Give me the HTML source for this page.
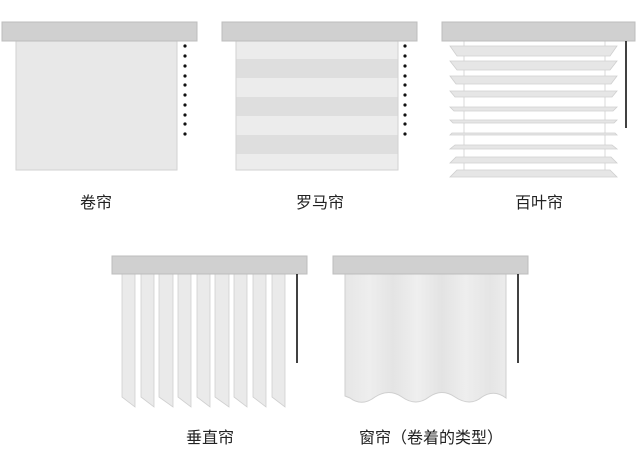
<!DOCTYPE html>
<html><head><meta charset="utf-8"><style>
body{margin:0;background:#fff;width:640px;height:469px;overflow:hidden}
svg{display:block}
text{font-family:"Liberation Sans","Noto Sans CJK SC",sans-serif;font-size:16px;fill:#222}
</style></head><body>
<svg width="640" height="469" viewBox="0 0 640 469">
<defs>
<linearGradient id="cg" x1="0" x2="1">
<stop offset="0" stop-color="#e6e6e6"/><stop offset="0.15" stop-color="#eeeeee"/><stop offset="0.3" stop-color="#e4e4e4"/><stop offset="0.45" stop-color="#efefef"/><stop offset="0.6" stop-color="#e3e3e3"/><stop offset="0.75" stop-color="#eeeeee"/><stop offset="0.9" stop-color="#e5e5e5"/><stop offset="1" stop-color="#ececec"/>
</linearGradient>
</defs>
<!-- roller -->
<rect x="16" y="41" width="161" height="129" fill="#e8e8e8" stroke="#d2d2d2"/>
<rect x="2" y="22" width="195" height="19" fill="#d0d0d0" stroke="#bdbdbd"/>
<g fill="#111">
<circle cx="185" cy="46" r="1.6"/><circle cx="185" cy="56" r="1.6"/><circle cx="185" cy="66" r="1.6"/><circle cx="185" cy="76" r="1.6"/><circle cx="185" cy="85" r="1.6"/><circle cx="185" cy="95" r="1.6"/><circle cx="185" cy="105" r="1.6"/><circle cx="185" cy="115" r="1.6"/><circle cx="185" cy="124" r="1.6"/><circle cx="185" cy="134" r="1.6"/>
</g>
<!-- roman -->
<rect x="236" y="41" width="162" height="129" fill="#ececec" stroke="#d2d2d2"/>
<g fill="#dedede">
<rect x="236.5" y="59" width="161" height="19"/><rect x="236.5" y="97" width="161" height="19"/><rect x="236.5" y="135" width="161" height="19"/>
</g>
<rect x="222" y="22" width="195" height="19" fill="#d0d0d0" stroke="#bdbdbd"/>
<g fill="#111">
<circle cx="405" cy="46" r="1.6"/><circle cx="405" cy="56" r="1.6"/><circle cx="405" cy="66" r="1.6"/><circle cx="405" cy="76" r="1.6"/><circle cx="405" cy="85" r="1.6"/><circle cx="405" cy="95" r="1.6"/><circle cx="405" cy="105" r="1.6"/><circle cx="405" cy="115" r="1.6"/><circle cx="405" cy="124" r="1.6"/><circle cx="405" cy="134" r="1.6"/>
</g>
<!-- venetian -->
<line x1="464" y1="41" x2="464" y2="175" stroke="#d8d8d8"/>
<line x1="605" y1="41" x2="605" y2="175" stroke="#d8d8d8"/>
<g fill="#e6e6e6" stroke="#cfcfcf" stroke-width="0.8">
<polygon points="450,46 617,46 610,56 457,56"/>
<polygon points="450,61 617,61 610,70 457,70"/>
<polygon points="450,76 617,76 611,84 456,84"/>
<polygon points="450,91 617,91 612,97 455,97"/>
<polygon points="450,107 617,107 613,111 454,111"/>
<polygon points="450,120 617,120 614,123 453,123"/>
<polygon points="452,133 615,133 617,135 450,135"/>
<polygon points="455,145 612,145 617,149 450,149"/>
<polygon points="456,157 611,157 617,163 450,163"/>
<polygon points="457,170 610,170 617,177 450,177"/>
</g>
<rect x="442" y="22" width="193" height="19" fill="#d0d0d0" stroke="#bdbdbd"/>
<line x1="626" y1="41" x2="626" y2="128" stroke="#111" stroke-width="1.6"/>
<!-- vertical -->
<g fill="#eaeaea" stroke="#cfcfcf" stroke-width="0.8">
<polygon points="122,274 135,274 135,407 122,397"/>
<polygon points="141,274 154,274 154,407 141,397"/>
<polygon points="159,274 173,274 173,407 159,397"/>
<polygon points="178,274 191,274 191,407 178,397"/>
<polygon points="197,274 210,274 210,407 197,397"/>
<polygon points="215,274 229,274 229,407 215,397"/>
<polygon points="234,274 247,274 247,407 234,397"/>
<polygon points="253,274 266,274 266,407 253,397"/>
<polygon points="272,274 285,274 285,407 272,397"/>
</g>
<rect x="112" y="256" width="195" height="18" fill="#d0d0d0" stroke="#bdbdbd"/>
<line x1="297" y1="274" x2="297" y2="363" stroke="#111" stroke-width="1.6"/>
<!-- curtain -->
<path d="M345,274 H506 V398 Q494,389 482,397 Q470,407 455,397 Q442,388 429,397 Q416,407 402,397 Q389,388 375,397 Q362,407 350,398 L345,396 Z" fill="url(#cg)" stroke="#cfcfcf"/>
<rect x="333" y="256" width="195" height="18" fill="#d0d0d0" stroke="#bdbdbd"/>
<line x1="518" y1="274" x2="518" y2="363" stroke="#111" stroke-width="1.6"/>
<!-- labels -->
<text x="96" y="208" text-anchor="middle">卷帘</text>
<text x="320" y="208" text-anchor="middle">罗马帘</text>
<text x="539" y="208" text-anchor="middle">百叶帘</text>
<text x="210" y="443" text-anchor="middle">垂直帘</text>
<text x="431" y="443" text-anchor="middle">窗帘（卷着的类型）</text>
</svg>
</body></html>
